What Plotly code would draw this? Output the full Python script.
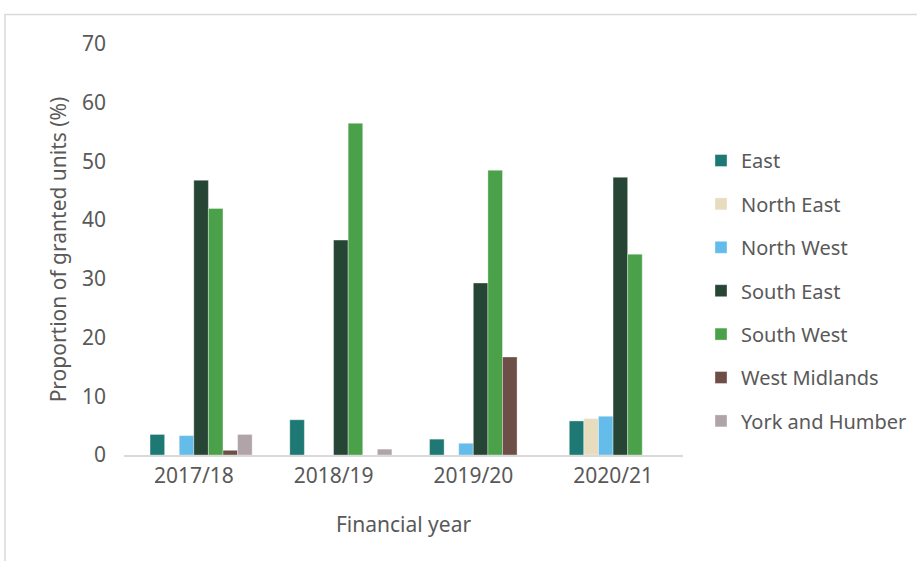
import plotly.graph_objects as go

years = ["2017/18", "2018/19", "2019/20", "2020/21"]
east = [3.5, 6.0, 2.7, 5.8]
north_east = [0, 0, 0, 6.2]
north_west = [3.3, 0, 2.0, 6.6]
south_east = [46.8, 36.6, 29.3, 47.3]
south_west = [42.0, 56.5, 48.5, 34.2]
west_midlands = [0.8, 0, 16.7, 0]
york_humber = [3.5, 1.0, 0, 0]

series = [
    ("East", east, "#1e7873"),
    ("North East", north_east, "#e8dcbf"),
    ("North West", north_west, "#63bce9"),
    ("South East", south_east, "#264535"),
    ("South West", south_west, "#4aa14a"),
    ("West Midlands", west_midlands, "#6d4f47"),
    ("York and Humber", york_humber, "#b0a4a9"),
]

FONT = "Noto Sans"
GREY = "#595959"

BAR_W = 0.1044          # width of one bar in category units
GROUP_START = -0.3137   # left edge of a group relative to the category centre

fig = go.Figure()
for i, (name, vals, col) in enumerate(series):
    fig.add_trace(go.Bar(
        name=name, x=years, y=vals, legendgroup=name,
        width=BAR_W, offset=GROUP_START + i * BAR_W,
        marker=dict(color=col, line=dict(color="rgba(255,255,255,0.6)", width=0.6)),
    ))

W, H = 917, 561
L, R, T, B = 124, 234, 44, 106
pw, ph = W - L - R, H - T - B

def px_x(x):
    return (x - L) / pw

def px_y(y):
    return (H - B - y) / ph

fig.update_layout(
    width=W, height=H,
    margin=dict(l=L, r=R, t=T, b=B, autoexpand=False),
    paper_bgcolor="white", plot_bgcolor="white",
    barmode="overlay",
    font=dict(family=FONT, color=GREY, size=20),
    showlegend=True,
    legend=dict(
        x=px_x(701), y=px_y(141), xanchor="left", yanchor="top",
        font=dict(family=FONT, size=20, color=GREY),
        tracegroupgap=14.4, bgcolor="rgba(0,0,0,0)",
    ),
    xaxis=dict(
        range=[-0.5, 3.5],
        showgrid=False, showline=True, linecolor="#d9d9d9", linewidth=2,
        ticks="", tickfont=dict(size=21, color=GREY), ticklabelstandoff=1,
        title=dict(text="Financial year", font=dict(size=21, color=GREY), standoff=29),
    ),
    yaxis=dict(
        range=[0, 70], dtick=10, showgrid=False, zeroline=False, showline=False,
        ticks="", tickfont=dict(size=21, color=GREY), ticklabelstandoff=17,
        title=dict(text="Proportion of granted units (%)", font=dict(size=21, color=GREY), standoff=9),
    ),
    shapes=[dict(
        type="rect", xref="paper", yref="paper",
        x0=px_x(5), x1=px_x(940), y0=px_y(600), y1=px_y(14.5),
        line=dict(color="#d9d9d9", width=1.5), fillcolor="rgba(0,0,0,0)", layer="below",
    )],
)

fig.write_html("out.html", config={"displayModeBar": False},
               post_script="document.body.style.margin='0';")
